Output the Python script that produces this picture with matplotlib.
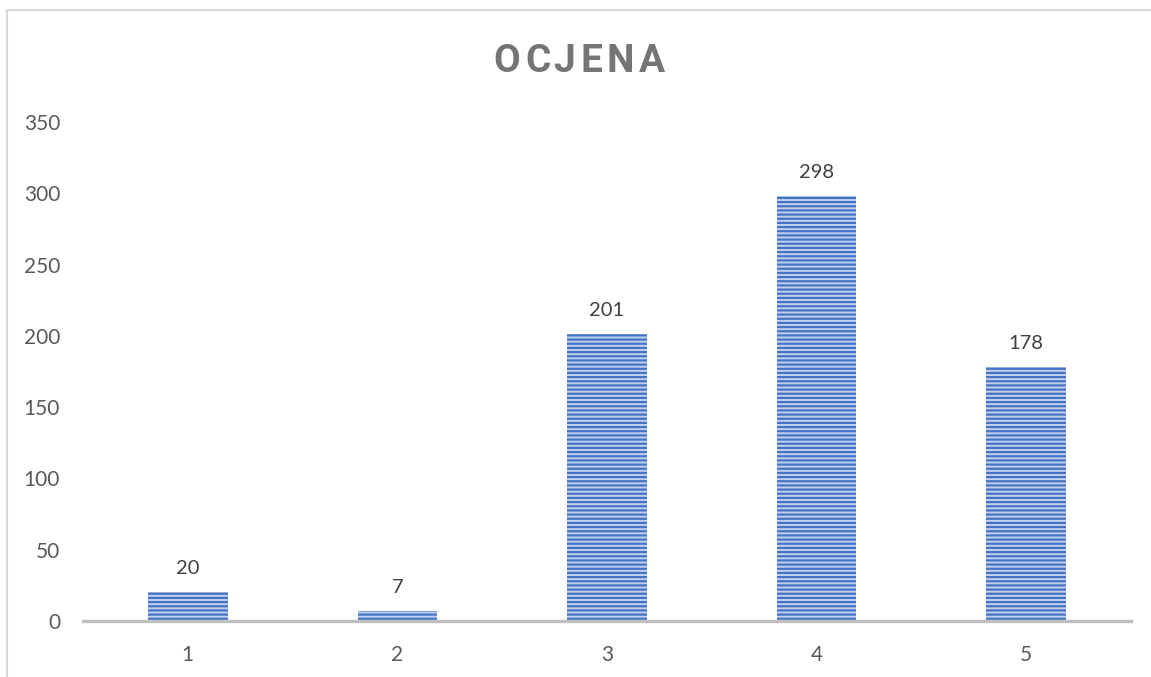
import matplotlib
matplotlib.use("Agg")
import matplotlib.pyplot as plt
from matplotlib.patches import Rectangle

categories = ["1", "2", "3", "4", "5"]
counts = [20, 7, 201, 298, 178]
y_ticks = [0, 50, 100, 150, 200, 250, 300, 350]
title = "OCJENA"

plt.rcParams["font.family"] = ["Lato", "DejaVu Sans"]
plt.rcParams["hatch.linewidth"] = 1.6

fig = plt.figure(figsize=(11.51, 6.77), dpi=100)
ax = fig.add_axes([83 / 1151, 1 - 621 / 677, (1131 - 83) / 1151, (621 - 122) / 677])

x = list(range(1, len(categories) + 1))
bars = ax.bar(x, counts, width=0.38, color="#c2d2ee", hatch="----",
              edgecolor="#4472C4", linewidth=0, zorder=2)

for b, v in zip(bars, counts):
    ax.annotate(str(v), (b.get_x() + b.get_width() / 2, v),
                xytext=(0, 11), textcoords="offset points",
                ha="center", va="bottom", fontsize=14.5, color="#404040")

ax.set_xlim(0.5, len(categories) + 0.5)
ax.set_ylim(0, 350)
ax.set_xticks(x)
ax.set_xticklabels(categories)
ax.set_yticks(y_ticks)
ax.tick_params(axis="both", length=0, labelsize=15, labelcolor="#595959")
ax.tick_params(axis="x", pad=17)
ax.tick_params(axis="y", pad=16.5)

for side in ["top", "right", "left"]:
    ax.spines[side].set_visible(False)
ax.spines["bottom"].set_color("#BFBFBF")
ax.spines["bottom"].set_linewidth(2.4)
ax.spines["bottom"].set_zorder(3)

# title with wide letter spacing, letter by letter
letter_x = [507, 538, 564, 591, 620, 652]
for ch, px in zip(title, letter_x):
    fig.text(px / 1151, 1 - 61 / 677, ch, ha="center", va="center",
             fontsize=28, fontweight="bold", color="#757575",
             family=["Roboto", "DejaVu Sans"])

# chart area border (cut off at right and bottom)
fig.patches.append(Rectangle((7 / 1151, -0.1), 1.2, 1 - 10 / 677 + 0.1,
                             transform=fig.transFigure, fill=False,
                             edgecolor="#D9D9D9", linewidth=1.5))

fig.savefig("out.png", dpi=100)
